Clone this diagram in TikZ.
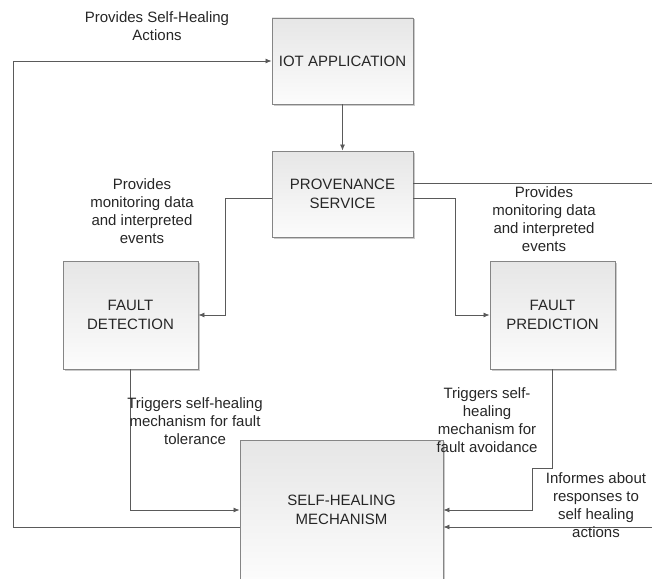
\documentclass[tikz,border=0pt]{standalone}
\usepackage{fontspec}
\setmainfont{Liberation Sans}
\usetikzlibrary{arrows.meta,shadows,calc}
\definecolor{txt}{HTML}{262626}
\definecolor{wire}{HTML}{5A5A5A}
\definecolor{edge}{HTML}{858585}
\definecolor{shadetop}{HTML}{E6E6E6}
\definecolor{shadebot}{HTML}{FCFCFC}
\tikzset{
  procbox/.style={draw=edge, line width=0.9pt, top color=shadetop, bottom color=shadebot,
    drop shadow={shadow xshift=1.5pt, shadow yshift=-1.5pt, fill=black!35, opacity=0.6},
    align=center, text=txt, inner sep=0pt, font=\fontsize{15}{19}\selectfont},
  wirelabel/.style={align=center, text=txt, inner sep=0pt, font=\fontsize{15}{18}\selectfont},
  conn/.style={draw=wire, line width=0.8pt},
  arr/.style={conn, -{Latex[length=6pt,width=5pt]}}
}
\begin{document}
\begin{tikzpicture}[x=1pt,y=-1pt]
\useasboundingbox (0,0) rectangle (652,578);
\begin{scope}
\clip (0,0) rectangle (652,578);

% process boxes
\node[procbox, minimum width=141pt, minimum height=86pt] (iot) at (342.5,61) {IOT APPLICATION};
\node[procbox, minimum width=141pt, minimum height=86pt] (prov) at (342.5,194) {PROVENANCE\\SERVICE};
\node[procbox, minimum width=135pt, minimum height=108pt] (det) at (130.5,315) {FAULT\\DETECTION};
\node[procbox, minimum width=125pt, minimum height=108pt] (pred) at (552.5,315) {FAULT\\PREDICTION};
\node[procbox, minimum width=203pt, minimum height=140pt] (heal) at (341.5,510) {SELF-HEALING\\MECHANISM};

% bend points and free ends
\coordinate (loopL) at (13,527);
\coordinate (provOut) at (652,183);
\coordinate (detBend) at (225,198);
\coordinate (predBend) at (455,198);
\coordinate (predStep) at (532,468);
\coordinate (respIn) at (652,527);

% self-healing actions back to the application
\draw[arr] (heal.west |- loopL) -- (loopL) |- (iot.west);
% application feeds provenance
\draw[arr] (iot.south) -- (prov.north);
% provenance outputs
\draw[conn] (prov.east |- provOut) -- (provOut);
\draw[arr] (prov.west |- detBend) -- (detBend) |- (det.east);
\draw[arr] (prov.east |- predBend) -- (predBend) |- (pred.west);
% triggers into the self-healing mechanism
\draw[arr] (det.south) |- (heal.west);
\draw[arr] (pred.south) |- (predStep) |- (heal.east);
\draw[arr] (respIn) -- (heal.east |- respIn);

% connector labels
\node[wirelabel] (lblActions) at (157,26) {Provides Self-Healing\\Actions};
\node[wirelabel] (lblMonL) at (142,211) {Provides\\monitoring data\\and interpreted\\events};
\node[wirelabel] (lblMonR) at (544,219.5) {Provides\\monitoring data\\and interpreted\\events};
\node[wirelabel] (lblTol) at (195,421) {Triggers self-healing\\mechanism for fault\\tolerance};
\node[wirelabel] (lblAvoid) at (487,420.5) {Triggers self-\\healing\\mechanism for\\fault avoidance};
\node[wirelabel] (lblResp) at (596,505) {Informes about\\responses to\\self healing\\actions};
\end{scope}
\end{tikzpicture}
\end{document}
